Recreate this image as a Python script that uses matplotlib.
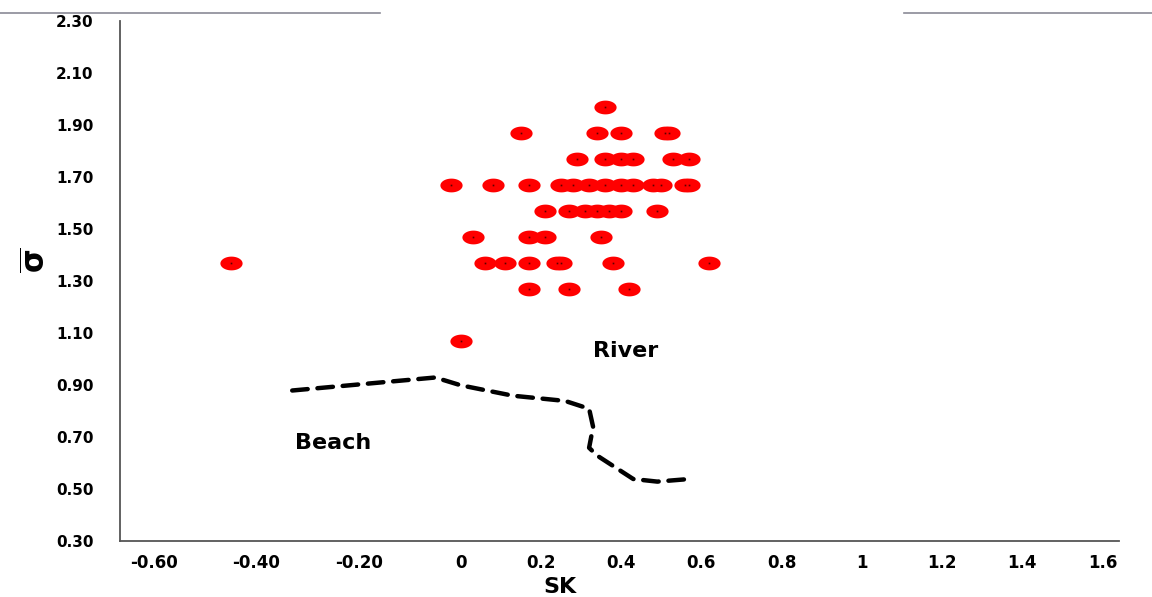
import numpy as np
import matplotlib
matplotlib.use("Agg")
import matplotlib.pyplot as plt
from matplotlib.path import Path
from matplotlib.lines import Line2D

# scatter data (SK, sorting)
sk = [0.36,
      0.15, 0.34, 0.40, 0.51, 0.52,
      0.29, 0.36, 0.40, 0.43, 0.53, 0.57,
      -0.02, 0.08, 0.17, 0.25, 0.28, 0.32, 0.36, 0.40, 0.43, 0.48, 0.50, 0.56, 0.57,
      0.21, 0.27, 0.31, 0.34, 0.37, 0.40, 0.49,
      0.03, 0.17, 0.21, 0.35,
      -0.45, 0.06, 0.11, 0.17, 0.24, 0.25, 0.38, 0.62,
      0.17, 0.27, 0.42,
      0.00]
sigma = [1.97,
         1.87, 1.87, 1.87, 1.87, 1.87,
         1.77, 1.77, 1.77, 1.77, 1.77, 1.77,
         1.67, 1.67, 1.67, 1.67, 1.67, 1.67, 1.67, 1.67, 1.67, 1.67, 1.67, 1.67, 1.67,
         1.57, 1.57, 1.57, 1.57, 1.57, 1.57, 1.57,
         1.47, 1.47, 1.47, 1.47,
         1.37, 1.37, 1.37, 1.37, 1.37, 1.37, 1.37, 1.37,
         1.27, 1.27, 1.27,
         1.07]

# beach / river boundary
line_sk = [-0.33, -0.05, 0.0, 0.13, 0.26, 0.32, 0.33, 0.32, 0.34, 0.39, 0.43, 0.49, 0.57]
line_sigma = [0.88, 0.93, 0.90, 0.86, 0.84, 0.81, 0.74, 0.66, 0.63, 0.58, 0.54, 0.53, 0.54]

xticks = [-0.6, -0.4, -0.2, 0, 0.2, 0.4, 0.6, 0.8, 1, 1.2, 1.4, 1.6]
xtick_labels = ["-0.60", "-0.40", "-0.20", "0", "0.2", "0.4", "0.6", "0.8", "1", "1.2", "1.4", "1.6"]
yticks = [0.30, 0.50, 0.70, 0.90, 1.10, 1.30, 1.50, 1.70, 1.90, 2.10, 2.30]

# negative side of the original axis is drawn wider than the positive side
NEG = 1.274

def fwd(x):
    x = np.asarray(x, dtype=float)
    return np.where(x < 0, x * NEG, x)

def inv(x):
    x = np.asarray(x, dtype=float)
    return np.where(x < 0, x / NEG, x)

# flattened ellipse marker
t = np.linspace(0, 2 * np.pi, 60)
ellipse = Path(np.column_stack([np.cos(t), 0.62 * np.sin(t)]), closed=True)

fig = plt.figure(figsize=(11.52, 5.97), dpi=100)
ax = fig.add_axes([0.1042, 0.093, 0.867, 0.872])
ax.set_xscale("function", functions=(fwd, inv))

ax.plot(sk, sigma, linestyle="none", marker=ellipse, markersize=16,
        color="#ff0000", markeredgewidth=0)
ax.plot(sk, sigma, linestyle="none", marker="s", markersize=1.2,
        color="#5a0000", markeredgewidth=0)

ax.plot(line_sk, line_sigma, color="black", linewidth=3.2,
        dashes=(3.5, 2.2), dash_capstyle="round", solid_capstyle="round")

ax.text(0.41, 1.03, "River", fontsize=16, fontweight="bold", ha="center", va="center")
ax.text(-0.25, 0.68, "Beach", fontsize=16, fontweight="bold", ha="center", va="center")

ax.set_xlim(-0.667, 1.641)
ax.set_ylim(0.30, 2.30)
ax.set_xticks(xticks)
ax.set_xticklabels(xtick_labels, fontsize=12, fontweight="bold")
ax.set_yticks(yticks)
ax.set_yticklabels(["%.2f" % v for v in yticks], fontsize=11, fontweight="bold")
ax.tick_params(axis="x", length=0, pad=9)
ax.tick_params(axis="y", length=0, pad=19)

ax.spines["top"].set_visible(False)
ax.spines["right"].set_visible(False)
for s in ["left", "bottom"]:
    ax.spines[s].set_color("#555555")
    ax.spines[s].set_linewidth(1.3)

ax.set_xlabel("SK", fontsize=16, fontweight="bold")
ax.xaxis.set_label_coords(0.44, -0.068)
ax.set_ylabel(r"$\mathbf{\overline{\sigma}}$", fontsize=22)
ax.yaxis.set_label_coords(-0.068, 0.54)

# thin grey rules along the top edge of the original image
fig.add_artist(Line2D([0, 0.33], [0.978, 0.978], color="#8a8a96", linewidth=1.2))
fig.add_artist(Line2D([0.785, 1.0], [0.978, 0.978], color="#8a8a96", linewidth=1.2))

fig.savefig("out.png", dpi=100)
